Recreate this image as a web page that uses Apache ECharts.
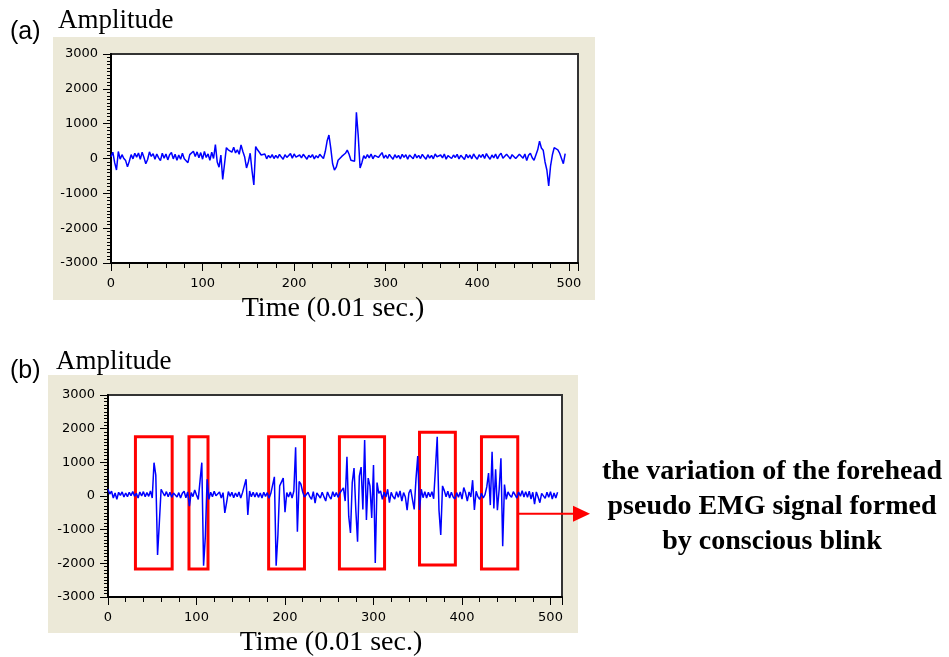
<!DOCTYPE html>
<html>
<head>
<meta charset="utf-8">
<script src="https://cdn.jsdelivr.net/npm/echarts@6/dist/echarts.min.js"></script>
<style>
html, body { margin: 0; padding: 0; background: #fff; }
#chart { width: 949px; height: 657px; }
</style>
</head>
<body>
<div id="chart"></div>
<script>
// sample spacing of both recordings (units of 0.01 sec)
var timeStep = 2;

// (a) normal recording
var ampA = [
  50, 180, -120, -330, 200, -20, 110, 0, -60, -240,
  -80, 110, -10, 150, 40, 160, -20, 180, 30, -150,
  -30, 190, 60, 140, -20, 130, 20, -60, 150, 10,
  130, -40, 110, 170, -10, 120, -50, 100, -20, 150,
  -10, -60, -120, 110, 160, 210, 60, 190, 20, 170,
  -20, 200, 30, 130, -50, 180, 0, 400, -100, -250,
  100, -600, -150, 310, 250, 290, 180, 320, 160, 250,
  120, 390, 200, 40, -270, -100, 150, -350, -760, 340,
  250, 180, 100, 60, 130, -10, 90, 20, 110, 0,
  90, 10, 120, 40, -20, 110, 30, 80, 140, 10,
  130, 40, -10, 100, 20, 120, 50, -20, 90, 30,
  110, -10, 80, 20, 120, 60, 0, 200, 500, 675,
  300, -150, -330, -250, -50, -100, 60, 40, 150, 240,
  120, -50, -100, -80, 1325, 650, -270, -120, 80, 0,
  110, 20, 130, -10, 90, 140, 30, 100, 170, 10,
  100, 0, 120, 40, -20, 110, 20, 90, -10, 120,
  30, 110, -20, 100, 50, -10, 130, 20, 90, 0,
  120, 40, -20, 110, 10, 90, -10, 130, 50, 0,
  100, 20, 130, -20, 80, 110, 0, 100, 30, 120,
  -10, 90, 60, -30, 120, 20, 100, -10, 130, 40,
  -20, 110, 30, 120, 0, 140, 50, -20, 100, 20,
  130, -10, 90, 150, 10, -30, 120, 60, -10, 110,
  140, 0, -30, 120, 170, 10, 130, -60, 90, 150,
  20, -50, 100, 250, 500, 300, 240, -100, -330, -790,
  -220, 100, 310, 280, 250, 150, 0, -150, 140
];

// (b) recording with conscious blinks
var ampB = [
  200, 60, 140, -60, 90, -100, 110, 20, 120, -30,
  90, -20, 110, 10, 130, -10, 80, -60, 120, 0,
  130, -20, 100, -10, 150, -60, 990, 620, -1750, -800,
  200, 150, 0, 130, -20, 110, -40, 90, 120, -30,
  100, -60, 80, 140, -50, 120, -300, 100, -20, 180,
  30, -100, 450, 990, -2070, -1200, 500, -100, 110, -20,
  140, 10, -40, 120, -60, 100, -500, -200, 130, -10,
  110, -50, 90, -20, 120, -60, 100, 140, 500, -560,
  150, -20, 110, -30, 100, -40, 90, -60, 110, -10,
  100, -70, 80, 130, 570, -2070, -1150, 300, 250, 530,
  -480, 100, -30, 120, -60, 150, 1445, -1060, 430, 350,
  120, -30, -80, 110, -20, -100, 130, -210, 90, 140,
  -60, 110, -20, -150, 120, -10, -90, 130, -20, 100,
  -40, 90, 100, 240, -150, 1165, -600, -1100, 400, 830,
  -400, -1355, 590, 860, -400, 1660, -710, 530, 300, -650,
  920, -1990, 400, 80, 150, -100, 110, -30, 200, -200,
  110, -20, -90, 130, -40, 150, -150, 100, -30, -420,
  90, 200, -100, -400, 500, 1190, -415, 200, -50, 130,
  -60, 110, -20, 130, -80, 810, 1760, -420, -1160, 300,
  160, -20, 140, -60, 110, -30, -90, 100, -40, 120,
  -90, 250, 100, -150, 120, -30, 470, -415, 140, -20,
  -100, 80, -60, 40, 270, 680, -270, 1315, -370, 790,
  -420, 200, 1120, -1490, 340, -100, 120, 20, -40, 130,
  150, -60, 120, -10, 160, -30, 130, -40, 140, -90,
  110, -240, 120, -30, -200, 80, 130, -70, 110, -40,
  130, -90, 90, -60, 110
];

// blink windows marked in (b)
var blinkStart = [31, 91.5, 181.5, 261.5, 352, 422];
var blinkEnd = [72.5, 113, 222, 312.5, 392.5, 463];
var blinkLow = [-2170, -2170, -2170, -2170, -2050, -2170];
var blinkHigh = [1760, 1760, 1760, 1760, 1890, 1760];
var arrowLevel = -530;

var timeMaxA = 510;
var timeMaxB = 513;
var ampMin = -3000, ampMax = 3000, ampStep = 1000;

function toPairs(values) {
    return values.map(function (v, i) { return [i * timeStep, v]; });
}

var tickFont = { fontFamily: 'DejaVu Sans', fontSize: 13, color: '#000' };

function makeX(gridIndex, max) {
    return {
        type: 'value', gridIndex: gridIndex, min: 0, max: max, interval: 100,
        axisLine: { onZero: false, lineStyle: { color: '#000', width: 2 } },
        axisTick: { length: 8, lineStyle: { color: '#000', width: 1 } },
        minorTick: { show: true, splitNumber: 5, length: 5, lineStyle: { color: '#000', width: 1 } },
        axisLabel: Object.assign({ margin: 14, formatter: function (v) { return v % 100 === 0 ? String(v) : ''; } }, tickFont),
        splitLine: { show: false }, minorSplitLine: { show: false }
    };
}
function makeY(gridIndex) {
    return {
        type: 'value', gridIndex: gridIndex, min: ampMin, max: ampMax, interval: ampStep,
        axisLine: { onZero: false, lineStyle: { color: '#000', width: 2 } },
        axisTick: { length: 8, lineStyle: { color: '#000', width: 1 } },
        minorTick: { show: true, splitNumber: 10, length: 4, lineStyle: { color: '#000', width: 1 } },
        axisLabel: Object.assign({ margin: 13, formatter: function (v) { return String(v); } }, tickFont),
        splitLine: { show: false }, minorSplitLine: { show: false }
    };
}

var blinkAreas = blinkStart.map(function (s, i) {
    return [{ coord: [s, blinkHigh[i]] }, { coord: [blinkEnd[i], blinkLow[i]] }];
});

var chart = echarts.init(document.getElementById('chart'));
var option = {
    animation: false,
    backgroundColor: '#fff',
    grid: [
        { left: 111, top: 54, width: 467, height: 209, show: true, backgroundColor: '#fff', borderColor: '#333', borderWidth: 2 },
        { left: 108, top: 395, width: 454, height: 202, show: true, backgroundColor: '#fff', borderColor: '#333', borderWidth: 2 }
    ],
    xAxis: [makeX(0, timeMaxA), makeX(1, timeMaxB)],
    yAxis: [makeY(0), makeY(1)],
    series: [
        {
            type: 'line', xAxisIndex: 0, yAxisIndex: 0, data: toPairs(ampA),
            showSymbol: false, lineStyle: { color: '#0000ff', width: 1.5 }
        },
        {
            type: 'line', xAxisIndex: 1, yAxisIndex: 1, data: toPairs(ampB),
            showSymbol: false, lineStyle: { color: '#0000ff', width: 1.5 },
            markArea: {
                silent: true,
                itemStyle: { color: 'rgba(0,0,0,0)', borderColor: '#ff0000', borderWidth: 3 },
                data: blinkAreas
            }
        }
    ]
};
chart.setOption(option);

// annotation arrow leaves the last blink box
var p = chart.convertToPixel({ gridIndex: 1 }, [blinkEnd[5], arrowLevel]);
var tipX = 590;

var serif = '"Liberation Serif", "Times New Roman", serif';
var sans = '"Liberation Sans", Arial, sans-serif';

chart.setOption({
    graphic: [
        { type: 'rect', z: -1, shape: { x: 53, y: 37, width: 542, height: 263 }, style: { fill: '#ECE9D8' } },
        { type: 'rect', z: -1, shape: { x: 48, y: 375, width: 530, height: 258 }, style: { fill: '#ECE9D8' } },
        { type: 'text', style: { text: '(a)', x: 10, y: 32, font: '25px ' + sans, fill: '#000', verticalAlign: 'middle' } },
        { type: 'text', style: { text: 'Amplitude', x: 58, y: 21, font: '27px ' + serif, fill: '#000', verticalAlign: 'middle' } },
        { type: 'text', style: { text: 'Time (0.01 sec.)', x: 333, y: 309, font: '28px ' + serif, fill: '#000', align: 'center', verticalAlign: 'middle' } },
        { type: 'text', style: { text: '(b)', x: 10, y: 371, font: '25px ' + sans, fill: '#000', verticalAlign: 'middle' } },
        { type: 'text', style: { text: 'Amplitude', x: 56, y: 362, font: '27px ' + serif, fill: '#000', verticalAlign: 'middle' } },
        { type: 'text', style: { text: 'Time (0.01 sec.)', x: 331, y: 643, font: '28px ' + serif, fill: '#000', align: 'center', verticalAlign: 'middle' } },
        { type: 'line', shape: { x1: p[0], y1: p[1], x2: tipX - 14, y2: p[1] }, style: { stroke: '#ff0000', lineWidth: 2 } },
        { type: 'polygon', shape: { points: [[tipX, p[1]], [tipX - 17, p[1] - 8], [tipX - 17, p[1] + 8]] }, style: { fill: '#ff0000' } },
        {
            type: 'text',
            style: {
                text: 'the variation of the forehead\npseudo EMG signal formed\nby conscious blink',
                x: 772, y: 507, font: 'bold 28px ' + serif, lineHeight: 35,
                fill: '#000', align: 'center', verticalAlign: 'middle'
            }
        }
    ]
});
</script>
</body>
</html>
